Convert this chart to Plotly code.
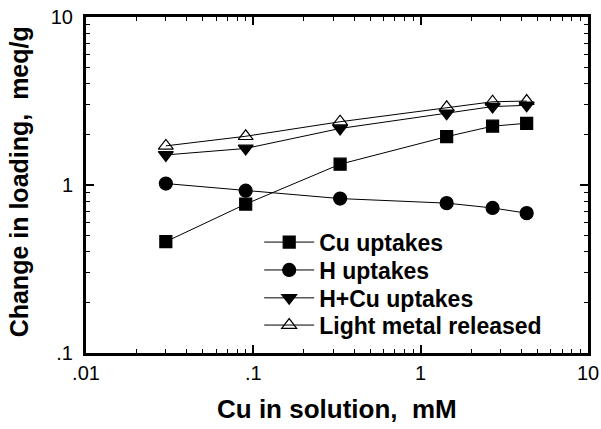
import plotly.graph_objects as go

x_cu = [0.03, 0.09, 0.33, 1.43, 2.69, 4.3]
cu_uptakes = [0.46, 0.77, 1.33, 1.94, 2.24, 2.33]
h_uptakes = [1.02, 0.925, 0.83, 0.78, 0.73, 0.68]
hcu_uptakes = [1.51, 1.65, 2.17, 2.67, 2.93, 2.98]
light_metal = [1.71, 1.95, 2.38, 2.9, 3.13, 3.16]

names = ["Cu uptakes", "H uptakes", "H+Cu uptakes", "Light metal released"]
x_tickvals = [0.01, 0.1, 1, 10]
x_ticktext = [".01", ".1", "1", "10"]
y_tickvals = [0.1, 1, 10]
y_ticktext = [".1", "1", "10"]
x_title = "Cu in solution,  mM"
y_title = "Change in loading,  meq/g"

series = [cu_uptakes, h_uptakes, hcu_uptakes, light_metal]
symbols = ["square", "circle", "triangle-down", "triangle-up-open"]
sizes = [12, 13, 13, 13]
legend_ids = ["legend", "legend2", "legend3", "legend4"]
legend_rows = [0.330, 0.247, 0.164, 0.083]

FONT = "Arial, Liberation Sans, sans-serif"

fig = go.Figure()
for nm, ys, sym, sz, lid in zip(names, series, symbols, sizes, legend_ids):
    fig.add_trace(go.Scatter(
        x=x_cu, y=ys, name=nm, mode="lines+markers",
        legend=lid,
        line=dict(color="black", width=1),
        marker=dict(symbol=sym, size=sz, color="black",
                    line=dict(color="black", width=1.2)),
    ))

legend_style = dict(
    x=0.345, xanchor="left", yanchor="middle",
    bgcolor="rgba(0,0,0,0)",
    font=dict(size=23, family=FONT, color="black", weight="bold"),
    itemwidth=50,
)
legend_layout = {lid: dict(legend_style, y=yr) for lid, yr in zip(legend_ids, legend_rows)}

minor_x = [m * 10 ** e for e in (-2, -1, 0) for m in range(2, 10)]
minor_y = [m * 10 ** e for e in (-1, 0) for m in range(2, 10)]

fig.update_layout(
    width=601, height=429,
    margin=dict(l=86, r=13, t=17, b=76, autoexpand=False),
    paper_bgcolor="white", plot_bgcolor="white",
    font=dict(family=FONT, color="black"),
    showlegend=True,
    **legend_layout,
    xaxis=dict(
        type="log", range=[-2, 1], automargin=False,
        tickvals=x_tickvals, ticktext=x_ticktext,
        ticks="inside", ticklen=8, tickwidth=1.5, tickcolor="black",
        minor=dict(tickvals=minor_x, ticks="inside", ticklen=4, tickwidth=1, tickcolor="black", showgrid=False),
        showline=True, linecolor="black", linewidth=3, mirror="allticks",
        showgrid=False, zeroline=False,
        tickfont=dict(size=20, family=FONT),
    ),
    yaxis=dict(
        type="log", range=[-1, 1], automargin=False,
        tickvals=y_tickvals, ticktext=y_ticktext,
        ticks="inside", ticklen=8, tickwidth=1.5, tickcolor="black",
        minor=dict(tickvals=minor_y, ticks="inside", ticklen=4, tickwidth=1, tickcolor="black", showgrid=False),
        showline=True, linecolor="black", linewidth=3, mirror="allticks",
        showgrid=False, zeroline=False,
        ticklabelstandoff=6,
        tickfont=dict(size=20, family=FONT),
    ),
    annotations=[
        dict(
            text=y_title, textangle=-90, showarrow=False,
            xref="paper", yref="paper", x=-0.134, y=0.51,
            xanchor="center", yanchor="middle",
            font=dict(size=25, family=FONT, weight="bold", color="black"),
        ),
        dict(
            text=x_title, showarrow=False,
            xref="paper", yref="paper", x=0.5, y=-0.168,
            xanchor="center", yanchor="middle", borderpad=0,
            font=dict(size=26, family=FONT, weight="bold", color="black"),
        ),
    ],
)

fig.write_html("out.html")
